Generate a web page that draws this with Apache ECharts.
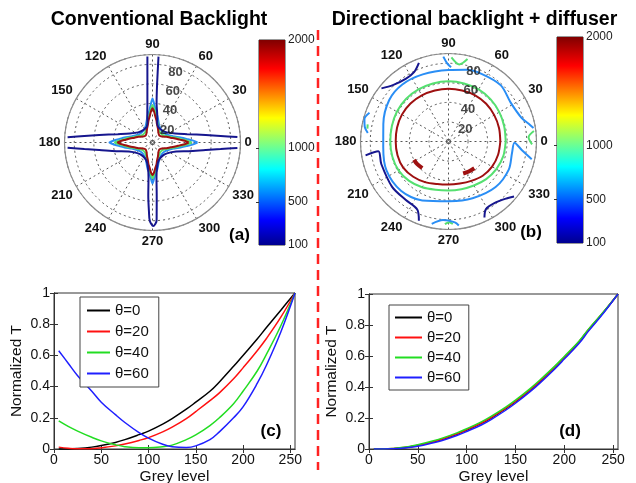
<!DOCTYPE html>
<html>
<head>
<meta charset="utf-8">
<script src="https://cdn.jsdelivr.net/npm/echarts@6/dist/echarts.min.js"></script>
<style>
html, body { margin: 0; padding: 0; background: #fff; }
#chart { width: 636px; height: 483px; }
</style>
</head>
<body>
<div id="chart"></div>
<script>
// ---------- shared ticks ----------
const ringTicks = [20, 40, 60, 80];          // polar-angle rings (deg)
const colorbarRange = [100, 2000];           // luminance scale (cd/m2)
const colorbarTicks = [100, 500, 1000, 2000];
const greyTicks = [0, 50, 100, 150, 200, 250];
const curveNames = ['\u03b8=0', '\u03b8=20', '\u03b8=40', '\u03b8=60'];

// ---------- (a) conventional backlight: iso-luminance contours ----------
// each point is [azimuth deg, polar angle deg]
const starAzimuth = [0,3,6,10,15,22,32,45,58,68,75,80,84,87,
  90,93,96,100,105,112,122,135,148,158,165,170,174,177,
  180,183,186,190,195,202,212,225,238,248,255,260,264,267,
  270,273,276,280,285,292,302,315,328,338,345,350,354,357,360];
const levelA1800 = [37,33,28,23.5,19,15.5,11.5,10,11.5,15,18.5,23,27,31.5,
  35,31.5,27,23,18.5,15,11.5,10,11.5,15.5,19,23.5,27.5,32,
  35.5,32,27.5,23.5,19,15.5,11.5,10,11.5,15,18.5,23,26.5,30.5,
  33.5,30.5,26.5,23,18.5,15,11.5,10,11.5,15.5,19,23.5,28,33,37];
const levelA1000 = [40,35.5,30.5,26,21,17,13.5,12.5,13.5,16.5,20.5,25,29,34,
  38,34,29,25,20.5,16.5,13.5,12.5,13.5,17,21,26,30,34.5,
  38.5,34.5,30,26,21,17,13.5,12.5,13.5,16.5,20.5,25,28.5,33,
  36.5,33,28.5,25,20.5,16.5,13.5,12.5,13.5,17,21,26,30.5,35.5,40];
const levelA600 = [46,41,35,29,23.5,19,16,15,16,18.5,23,28,32,38,
  45,38,32,28,23,18.5,16,15,16,19,23.5,29,34,39.5,
  44,39.5,34,29,23.5,19,16,15,16,18.5,23,28,31,36,
  42,36,31,28,23,18.5,16,15,16,19,23.5,29,35,41,46];
const levelA100 = [
  [[86,88],[85.5,60],[84,40],[80,28],[77,21.5],[70,17],[54,15.8],[35,18],[21.5,25],[13.5,36.5],[8,55],[5.5,70],[3.7,87]],
  [[93.4,88],[95,60],[97.5,40],[101,28],[104,21.5],[111,17],[127,15.8],[145,18],[158.5,25],[166.5,36.5],[172,55],[174.5,70],[176.5,87]],
  [[183.5,87],[185.5,70],[188,55],[193.5,38],[201,26],[215,19],[232,17],[250,19],[259,25],[263.5,36],[265.5,55],[267,70],[268,80],
   [270.5,85.5],[273,80],[273.5,70],[274.5,55],[276.5,36],[281,25],[290,19],[308,17],[325,19],[339,26],[346.5,38],[352,55],[354.5,70],[356.3,87]]
];

// ---------- (b) directional backlight + diffuser ----------
const ringAzimuth = [0,15,30,45,60,75,90,105,120,135,150,165,180,195,210,225,240,255,270,285,300,315,330,345,360];
const levelB1800 = [53,53.5,54,54.5,54.5,54,54,54,54.5,55,55,54.5,54,54,53.5,51,48,45,44,44.5,46.5,49.5,51.5,52.5,53];
const levelB1000 = [58.5,59,60,61,61.5,61.5,61.5,61.5,61.5,61.5,61,60,59.5,59.5,59,57,54,51,50,50.5,52,54.5,56.5,58,58.5];
const levelB1800Spots = [
  [[208,40],[216,39.5],[225.5,38.3]],
  [[294.6,36],[304,37],[314,38]]
];
const levelB600 = [
  [[348,87],[353,76],[359,67.5],[350,66],[335,68],[316,67],[293,63],[271,61],[246,66],[226,70],[205,70],[185,67],[165,69],
   [145,74],[129,75],[111,73.5],[90,73],[76,75.5],[64,77],[47,78.5],[32,75],[18,78.5],[12.5,84],[9,88]],
  [[93.5,87],[91,80],[88,76]],
  [[160,86],[165,89],[170,87],[174,83]],
  [[258.5,86],[266,80.5],[274.5,83],[277,86.5]]
];
const levelB1000Spots = [
  [[88,86],[82,79.5],[77,86.5]],
  [[7,88],[3,82],[358,85.5]],
  [[168,84.5],[171,84]],
  [[267.5,84.5],[270.5,82.5],[273,84.5]]
];
const levelB100 = [
  [[141.6,87.5],[134.6,81],[124,77.6],[116.4,79.2],[110.6,86]],
  [[189.5,86],[188,72.5],[198.5,72.5],[218.8,74],[233.6,74],[245.3,76.5],[249.5,86.5]],
  [[295.3,86],[299,79],[306.7,78.5],[316,83.5],[320,87.5]]
];

// ---------- (c)/(d) normalized transmittance vs grey level ----------
const greyLevels = [5,15,25,40,50,65,75,90,100,115,125,140,150,165,175,190,200,215,225,240,255];
const convT0  = [0,0,0.003,0.012,0.022,0.042,0.06,0.092,0.115,0.16,0.195,0.255,0.30,0.37,0.43,0.53,0.60,0.705,0.78,0.89,1.0];
const convT20 = [0.012,0.005,0.001,0.002,0.008,0.02,0.032,0.055,0.073,0.11,0.14,0.195,0.24,0.31,0.36,0.45,0.52,0.63,0.71,0.845,1.0];
const convT40 = [0.18,0.145,0.115,0.075,0.052,0.027,0.015,0.008,0.008,0.015,0.025,0.06,0.09,0.15,0.20,0.29,0.37,0.50,0.61,0.79,1.0];
const convT60 = [0.63,0.55,0.47,0.37,0.30,0.22,0.17,0.105,0.07,0.03,0.015,0.01,0.02,0.06,0.11,0.20,0.27,0.42,0.54,0.75,1.0];
const dirT0  = [0,0,0.002,0.012,0.022,0.045,0.062,0.095,0.122,0.165,0.20,0.26,0.305,0.38,0.435,0.525,0.59,0.69,0.77,0.88,1.0];
const dirT20 = [0,0,0.003,0.013,0.024,0.047,0.065,0.098,0.125,0.168,0.203,0.263,0.308,0.383,0.438,0.528,0.592,0.692,0.772,0.882,1.0];
const dirT40 = [0,0,0.004,0.015,0.027,0.051,0.07,0.104,0.131,0.175,0.21,0.27,0.315,0.39,0.445,0.533,0.597,0.695,0.775,0.884,1.0];
const dirT60 = [0,0,0.001,0.009,0.018,0.039,0.055,0.087,0.113,0.155,0.19,0.25,0.295,0.37,0.425,0.515,0.58,0.68,0.762,0.876,1.0];

// ---------- helpers ----------
const FONT = '"Liberation Sans", Arial, Helvetica, sans-serif';
const jetStops = [
  { offset: 0, color: '#00008f' }, { offset: 0.12, color: '#0000ff' },
  { offset: 0.37, color: '#00ffff' }, { offset: 0.62, color: '#ffff00' },
  { offset: 0.86, color: '#ff0000' }, { offset: 1, color: '#800000' }
];
const CONTOUR = { navy: '#16168e', blue: '#2a8ef5', green: '#55e070', red: '#9e1010' };

function toPolar(points) { return points.map(p => [p[1], p[0]]); }
function zipPolar(az, rr) { return az.map((a, i) => [rr[i], a]); }
function contour(polarIndex, data, color, width) {
  return {
    type: 'line', coordinateSystem: 'polar', polarIndex, data,
    symbol: 'none', smooth: 0.3, silent: true,
    lineStyle: { color, width: width || 2 }, z: 3
  };
}
function zipXY(xs, ys) { return xs.map((x, i) => [x, ys[i]]); }

const polarCenters = [[152.5, 142.5], [448.5, 141.5]];
const angleAxes = polarCenters.map((c, i) => ({
  polarIndex: i, type: 'value', min: 0, max: 360, interval: 30,
  startAngle: 0, clockwise: false,
  axisLine: { lineStyle: { color: '#8c8c8c', width: 1.2 } },
  axisTick: { show: false },
  axisLabel: { margin: 4, fontSize: 13, fontWeight: 'bold', fontFamily: FONT, color: '#111',
    formatter: v => (v === 360 ? '' : String(v)) },
  splitLine: { show: true, lineStyle: { color: '#555', width: 1, type: [2, 3] } }
}));
const radiusAxes = polarCenters.map((c, i) => ({
  polarIndex: i, type: 'value', min: 0, max: 90, interval: 20,
  axisLine: { show: false }, axisTick: { show: false }, axisLabel: { show: false },
  splitLine: { show: true, lineStyle: { color: '#555', width: 1, type: [2, 3] } }
}));

function ringLabels(polarIndex, dx) {
  return {
    type: 'scatter', coordinateSystem: 'polar', polarIndex, silent: true,
    symbolSize: 1, itemStyle: { color: 'rgba(0,0,0,0)' },
    data: ringTicks.map(v => [v, 82]),
    label: { show: true, position: 'inside', offset: [dx, 7], formatter: p => String(p.value[0]),
      fontSize: 13, fontWeight: 'bold', fontFamily: FONT, color: '#1a1a1a' },
    z: 4
  };
}

function colorbarSeries(xi, yi) {
  return {
    type: 'custom', xAxisIndex: xi, yAxisIndex: yi, silent: true,
    data: [[0, colorbarRange[0], 1, colorbarRange[1]]],
    renderItem: (params, api) => {
      const a = api.coord([api.value(0), api.value(1)]);
      const b = api.coord([api.value(2), api.value(3)]);
      return { type: 'rect', shape: { x: a[0], y: b[1], width: b[0] - a[0], height: a[1] - b[1] },
        style: { fill: new echarts.graphic.LinearGradient(0, 1, 0, 0, jetStops) } };
    }
  };
}

const chart = echarts.init(document.getElementById('chart'), null, { renderer: 'canvas' });

const cbGrid = { show: true, borderColor: '#333', borderWidth: 1, backgroundColor: 'transparent', outerBoundsMode: 'none' };
const plotGrid = { show: true, borderColor: '#333', borderWidth: 1, outerBoundsMode: 'none' };

function cbX(gi) { return { gridIndex: gi, type: 'value', min: 0, max: 1, show: false }; }
function cbYRight(gi) {
  return { gridIndex: gi, type: 'value', min: colorbarRange[0], max: colorbarRange[1], position: 'right',
    axisLine: { show: false }, splitLine: { show: false },
    axisTick: { show: true, inside: true, length: 3, customValues: [500, 1000], lineStyle: { color: '#333' } },
    axisLabel: { customValues: colorbarTicks, margin: 3, fontSize: 12, fontFamily: FONT, color: '#222',
      formatter: v => String(v) } };
}
function cbYLeft(gi) {
  return { gridIndex: gi, type: 'value', min: colorbarRange[0], max: colorbarRange[1], position: 'left',
    axisLine: { show: false }, splitLine: { show: false }, axisLabel: { show: false },
    axisTick: { show: true, inside: true, length: 3, customValues: [500, 1000], lineStyle: { color: '#333' } } };
}
function greyX(gi, top) {
  return { gridIndex: gi, type: 'value', min: 0, max: 255, position: top ? 'top' : 'bottom',
    axisLine: { show: true, lineStyle: { color: '#333' } }, splitLine: { show: false },
    axisTick: { inside: true, length: 4, customValues: greyTicks, lineStyle: { color: '#333' } },
    axisLabel: top ? { show: false } : { customValues: greyTicks, margin: 4, fontSize: 14, fontFamily: FONT, color: '#111' },
    name: top ? '' : 'Grey level', nameLocation: 'middle', nameGap: 20,
    nameTextStyle: { fontSize: 15.5, fontFamily: FONT, color: '#111' } };
}
function transY(gi, right) {
  return { gridIndex: gi, type: 'value', min: 0, max: 1, interval: 0.2, position: right ? 'right' : 'left',
    axisLine: { show: true, lineStyle: { color: '#333' } }, splitLine: { show: false },
    axisTick: { inside: true, length: 4, lineStyle: { color: '#333' } },
    axisLabel: right ? { show: false } : { margin: 4, fontSize: 14, fontFamily: FONT, color: '#111' },
    name: right ? '' : 'Normalized T', nameLocation: 'middle', nameGap: 29, nameRotate: 90,
    nameTextStyle: { fontSize: 15.5, fontFamily: FONT, color: '#111' } };
}
function curve(name, xs, ys, color, xi, yi) {
  return { type: 'line', name, data: zipXY(xs, ys), xAxisIndex: xi, yAxisIndex: yi,
    symbol: 'none', smooth: 0.4, lineStyle: { color, width: 1.5 }, itemStyle: { color } };
}
const curveColors = ['#000000', '#ff1010', '#22dd22', '#1f1fff'];

function legendAt(left, top, itemWidth, gap, pad) {
  return { data: curveNames, left, top, orient: 'vertical', selectedMode: false,
    icon: 'rect', itemWidth, itemHeight: 2, itemGap: gap, padding: pad,
    borderColor: '#444', borderWidth: 1, backgroundColor: '#fff', borderRadius: 0,
    textStyle: { fontSize: 15, fontFamily: FONT, color: '#111' } };
}

const label = (text, x, y, size) => ({
  type: 'text', x, y, silent: true,
  style: { text, font: 'bold ' + size + 'px ' + FONT, fill: '#000',
    align: 'center', verticalAlign: 'middle', textAlign: 'center', textVerticalAlign: 'middle' }
});

const series = [
  // (a)
  contour(0, zipPolar(starAzimuth, levelA600), CONTOUR.blue),
  contour(0, zipPolar(starAzimuth, levelA1000), CONTOUR.green),
  contour(0, zipPolar(starAzimuth, levelA1800), CONTOUR.red),
  ...levelA100.map(p => contour(0, toPolar(p), CONTOUR.navy)),
  ringLabels(0, 12),
  // (b)
  contour(1, zipPolar(ringAzimuth, levelB1800), CONTOUR.red),
  ...levelB1800Spots.map(p => contour(1, toPolar(p), CONTOUR.red, 4)),
  contour(1, zipPolar(ringAzimuth, levelB1000), CONTOUR.green),
  ...levelB1000Spots.map(p => contour(1, toPolar(p), CONTOUR.green)),
  ...levelB600.map(p => contour(1, toPolar(p), CONTOUR.blue)),
  ...levelB100.map(p => contour(1, toPolar(p), CONTOUR.navy)),
  ringLabels(1, 14),
  // colorbars
  colorbarSeries(0, 0),
  colorbarSeries(1, 2),
  // (c)
  curve(curveNames[0], greyLevels, convT0, curveColors[0], 2, 4),
  curve(curveNames[1], greyLevels, convT20, curveColors[1], 2, 4),
  curve(curveNames[2], greyLevels, convT40, curveColors[2], 2, 4),
  curve(curveNames[3], greyLevels, convT60, curveColors[3], 2, 4),
  // (d)
  curve(curveNames[0], greyLevels, dirT0, curveColors[0], 4, 6),
  curve(curveNames[1], greyLevels, dirT20, curveColors[1], 4, 6),
  curve(curveNames[2], greyLevels, dirT40, curveColors[2], 4, 6),
  curve(curveNames[3], greyLevels, dirT60, curveColors[3], 4, 6)
];

chart.setOption({
  animation: false,
  backgroundColor: '#fff',
  polar: [
    { center: polarCenters[0], radius: 88 },
    { center: polarCenters[1], radius: 88 }
  ],
  angleAxis: angleAxes,
  radiusAxis: radiusAxes,
  grid: [
    Object.assign({ left: 259, top: 40, width: 26, height: 205 }, cbGrid),
    Object.assign({ left: 557, top: 37, width: 26, height: 206 }, cbGrid),
    Object.assign({ left: 54, top: 293, width: 241, height: 156 }, plotGrid),
    Object.assign({ left: 369, top: 294, width: 249, height: 155 }, plotGrid)
  ],
  xAxis: [cbX(0), cbX(1), greyX(2, false), greyX(2, true), greyX(3, false), greyX(3, true)],
  yAxis: [cbYRight(0), cbYLeft(0), cbYRight(1), cbYLeft(1), transY(2, false), transY(2, true), transY(3, false), transY(3, true)],
  legend: [
    legendAt(80, 297, 23, 6, [6, 10, 6, 7]),
    legendAt(389, 305, 27, 5, [5, 8, 5, 6])
  ],
  graphic: [
    { type: 'line', silent: true, shape: { x1: 318, y1: 30, x2: 318, y2: 470 },
      style: { stroke: '#ff2222', lineWidth: 2.5, lineDash: [10, 6] } },
    label('Conventional Backlight', 159, 20, 19.5),
    label('Directional backlight + diffuser', 474.5, 20, 19.5),
    label('(a)', 239.5, 235, 17),
    label('(b)', 531, 232, 17),
    label('(c)', 271, 431, 17),
    label('(d)', 570, 431, 17)
  ],
  series
});
</script>
</body>
</html>
